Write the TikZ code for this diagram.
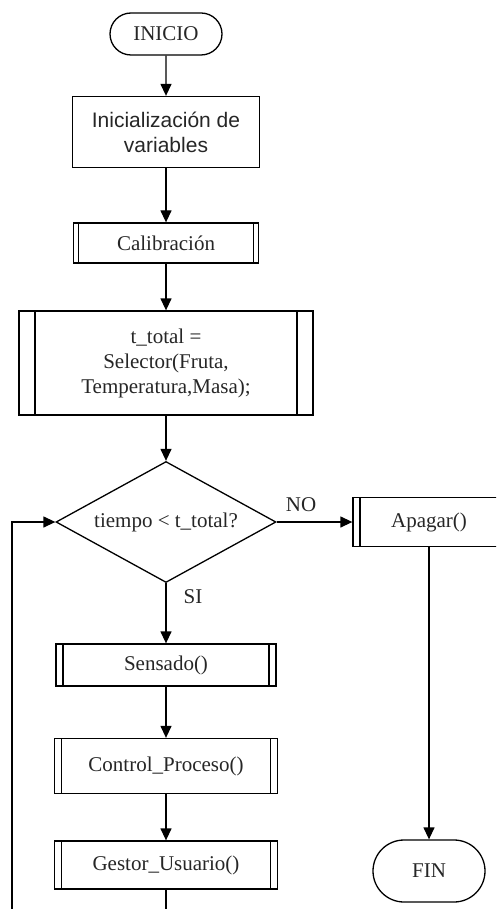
\documentclass[tikz,border=0pt]{standalone}
\usepackage{fontspec}
\setmainfont{Liberation Serif}
\setsansfont{Liberation Sans}
\usetikzlibrary{shapes.geometric,shapes.misc,arrows.meta}

\tikzset{
  every node/.style={font=\fontsize{21pt}{25pt}\selectfont, text=black!85},
  flow/.style={line width=1.3pt, -{Triangle[length=12pt,width=11pt]}},
  term/.style={rounded rectangle, draw, line width=1.3pt, inner sep=0pt},
  procbox/.style={rectangle, draw, line width=1.3pt, inner sep=0pt, align=center},
  subr/.style={rectangle, draw, line width=1.3pt, inner sep=0pt, align=center,
    path picture={
      \draw[line width=1.3pt] ([xshift=#1]path picture bounding box.north west) -- ([xshift=#1]path picture bounding box.south west);
      \draw[line width=1.3pt] ([xshift=-#1]path picture bounding box.north east) -- ([xshift=-#1]path picture bounding box.south east);
    }},
  decide/.style={diamond, draw, line width=1.3pt, inner sep=0pt, aspect=1.83},
  tag/.style={inner sep=0pt}
}

\begin{document}
\begin{tikzpicture}[x=1pt,y=-1pt]
  \useasboundingbox (0,0) rectangle (496,909);
  \clip (0,0) rectangle (496,909);

  % main column
  \node[term, minimum width=112pt, minimum height=42pt] (ini) at (166,34) {INICIO};
  \node[procbox, minimum width=187pt, minimum height=71pt, font=\sffamily\fontsize{21pt}{25pt}\selectfont] (init) at (166,132) {Inicialización de\\variables};
  \node[subr=5pt, minimum width=185pt, minimum height=40pt] (cal) at (166,243) {Calibración};
  \node[subr=16pt, minimum width=294pt, minimum height=104pt] (sel) at (166,363) {t\_total =\\Selector(Fruta,\\Temperatura,Masa);};
  \node[decide, minimum width=220pt, minimum height=121pt] (dec) at (166,522) {tiempo < t\_total?};
  \node[subr=7pt, minimum width=220pt, minimum height=42pt] (sens) at (166,665) {Sensado()};
  \node[subr=7pt, minimum width=223pt, minimum height=55pt] (ctrl) at (166,766) {Control\_Proceso()};
  \node[subr=7pt, minimum width=223pt, minimum height=48pt] (gest) at (166,865) {Gestor\_Usuario()};

  % exit branch
  \node[subr=7pt, minimum width=152pt, minimum height=49pt] (apag) at (429,522) {Apagar()};
  \node[term, minimum width=112pt, minimum height=62pt] (fin) at (429,871) {FIN};

  % branch labels
  \node[tag] (no) at (301,505) {NO};
  \node[tag] (si) at (193,597) {SI};

  % loop-back path points
  \coordinate (lb) at (166,940);
  \coordinate (lc) at (12,940);
  \coordinate (lu) at (12,522);

  % connectors
  \draw[flow] (ini) -- (init);
  \draw[flow] (init) -- (cal);
  \draw[flow] (cal) -- (sel);
  \draw[flow] (sel) -- (dec.north);
  \draw[flow] (dec.south) -- (sens);
  \draw[flow] (sens) -- (ctrl);
  \draw[flow] (ctrl) -- (gest);
  \draw[flow] (dec.east) -- (apag.west);
  \draw[flow] (apag) -- (fin);
  \draw[flow] (gest.south) -- (lb) -- (lc) -- (lu) -- (dec.west);
\end{tikzpicture}
\end{document}
